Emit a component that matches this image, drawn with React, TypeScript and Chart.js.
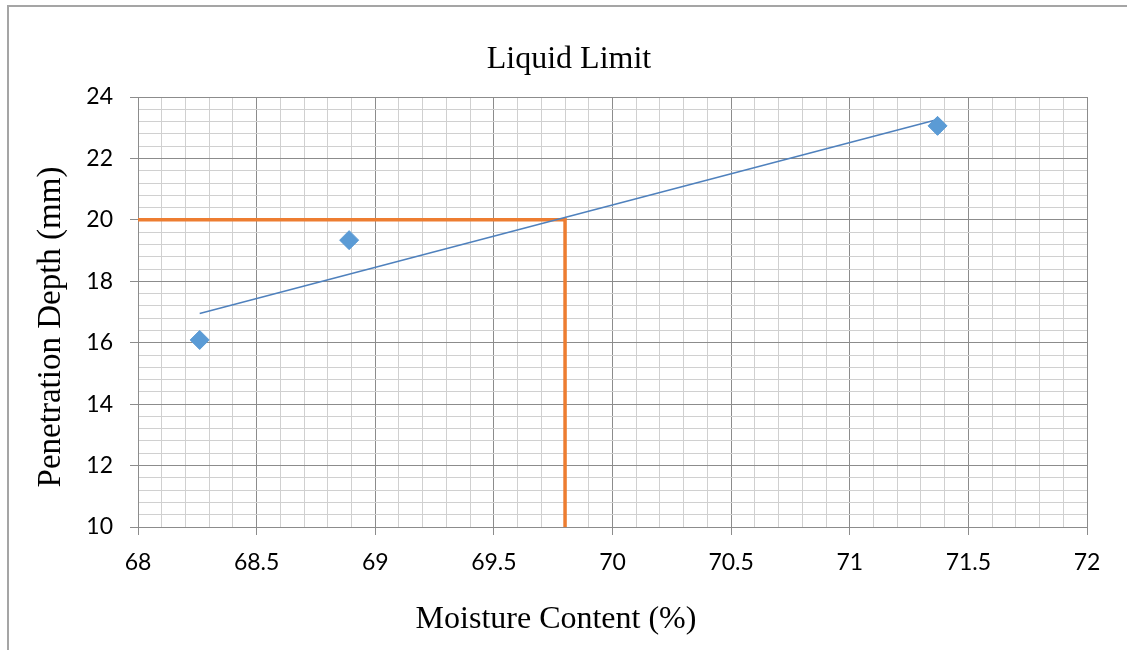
import React, { useEffect, useRef } from "react";
import { Chart, registerables } from "chart.js";

Chart.register(...registerables);

const moisture = [68.26, 68.89, 71.37];
const depth = [16.09, 19.34, 23.06];
const trendX = [68.26, 71.37];
const trendY = [16.95, 23.27];
const limitX = [68, 69.8, 69.8];
const limitY = [20, 20, 10];

const chartTitle = "Liquid Limit";
const xTitle = "Moisture Content (%)";
const yTitle = "Penetration Depth (mm)";

const MAJOR = "#8c8c8c";
const MINOR = "#d0d0d0";
const SERIF = "'Liberation Serif', 'Times New Roman', serif";

const isMult = (v: number, m: number) => Math.abs(v / m - Math.round(v / m)) < 1e-6;

const borderPlugin = {
  id: "outerBorder",
  beforeDraw(chart: any) {
    const ctx = chart.ctx;
    ctx.save();
    ctx.fillStyle = "#ffffff";
    ctx.fillRect(0, 0, chart.width, chart.height);
    ctx.fillStyle = "#a5a5a5";
    ctx.fillRect(7, 5, 2, chart.height);
    ctx.fillRect(7, 5, chart.width, 2);
    ctx.restore();
  },
  afterDraw(chart: any) {
    const ctx = chart.ctx;
    ctx.save();
    ctx.fillStyle = "#000";
    ctx.textAlign = "center";
    ctx.textBaseline = "alphabetic";
    ctx.font = `32px ${SERIF}`;
    ctx.fillText(chartTitle, 569, 68);
    ctx.fillText(xTitle, 556, 628);
    ctx.translate(60, 327);
    ctx.rotate(-Math.PI / 2);
    ctx.font = `33px ${SERIF}`;
    ctx.fillText(yTitle, 0, 0);
    ctx.restore();
  },
};

export default function App() {
  const ref = useRef<HTMLCanvasElement | null>(null);
  useEffect(() => {
    document.body.style.margin = "0";
    document.body.style.overflow = "hidden";
    const pts = moisture.map((x, i) => ({ x, y: depth[i] }));
    const trend = trendX.map((x, i) => ({ x, y: trendY[i] }));
    const limit = limitX.map((x, i) => ({ x, y: limitY[i] }));
    const chart = new Chart(ref.current as HTMLCanvasElement, {
      type: "scatter",
      data: {
        datasets: [
          {
            label: "Data",
            data: pts,
            pointStyle: "rectRot",
            pointRadius: 9.5,
            backgroundColor: "#5B9BD5",
            borderColor: "#5B9BD5",
            borderWidth: 1,
            showLine: false,
            order: 0,
          },
          {
            label: "Trend",
            data: trend,
            showLine: true,
            borderColor: "#4F81BD",
            borderWidth: 1.5,
            pointRadius: 0,
            order: 1,
          },
          {
            label: "Limit",
            data: limit,
            showLine: true,
            borderColor: "#ED7D31",
            borderWidth: 3.5,
            pointRadius: 0,
            order: 2,
          },
        ],
      },
      plugins: [borderPlugin],
      options: {
        animation: false,
        responsive: false,
        layout: { padding: { left: 0, right: 40, top: 97, bottom: 0 } },
        plugins: {
          legend: { display: false },
          tooltip: { enabled: false },
          title: { display: false },
        },
        scales: {
          x: {
            type: "linear",
            min: 68,
            max: 72,
            afterFit(scale: any) {
              scale.height = 123;
            },
            ticks: {
              stepSize: 0.1,
              autoSkip: false,
              maxRotation: 0,
              padding: 14,
              color: "#000",
              font: { family: "Lato, 'Open Sans', sans-serif", size: 23 },
              callback: (v: any) => (isMult(Number(v), 0.5) ? String(Math.round(Number(v) * 10) / 10) : ""),
            },
            grid: {
              color: (c: any) => (isMult(c.tick.value, 0.5) ? MAJOR : MINOR),
              tickColor: (c: any) => (isMult(c.tick.value, 0.5) ? MAJOR : "rgba(0,0,0,0)"),
              tickLength: 8,
              lineWidth: 1,
            },
            border: { color: MAJOR, width: 1 },
            title: { display: false },
          },
          y: {
            type: "linear",
            min: 10,
            max: 24,
            afterFit(scale: any) {
              scale.width = 138;
            },
            ticks: {
              stepSize: 0.4,
              autoSkip: false,
              padding: 17,
              color: "#000",
              font: { family: "Lato, 'Open Sans', sans-serif", size: 23 },
              callback: (v: any) => (isMult(Number(v), 2) ? String(Math.round(Number(v))) : ""),
            },
            grid: {
              color: (c: any) => (isMult(c.tick.value, 2) ? MAJOR : MINOR),
              tickColor: (c: any) => (isMult(c.tick.value, 2) ? MAJOR : "rgba(0,0,0,0)"),
              tickLength: 8,
              lineWidth: 1,
            },
            border: { color: MAJOR, width: 1 },
            title: { display: false },
          },
        },
      },
    } as any);
    return () => chart.destroy();
  }, []);
  return (
    <canvas
      ref={ref}
      width={1127}
      height={650}
      style={{ display: "block", width: 1127, height: 650 }}
    />
  );
}
